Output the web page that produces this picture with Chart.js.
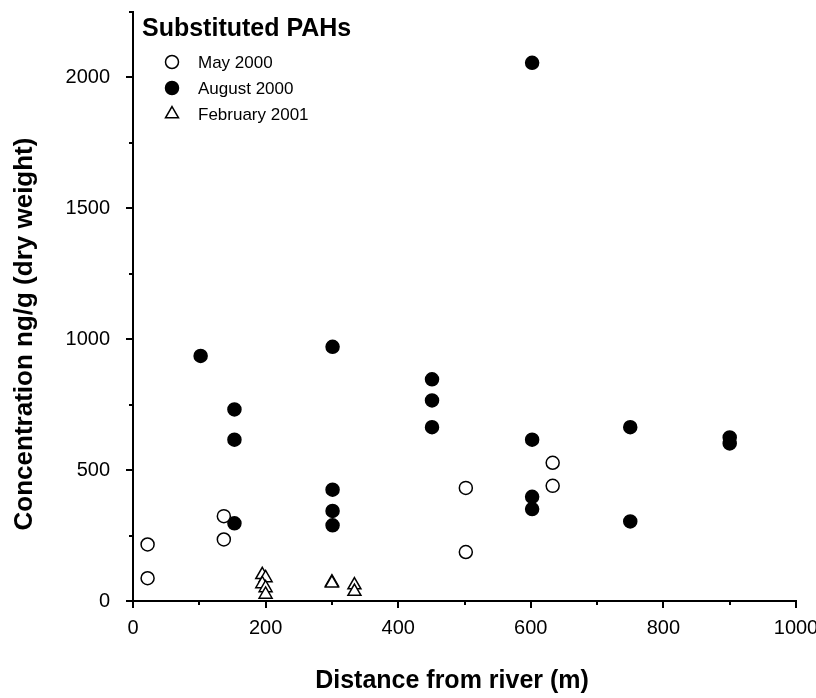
<!DOCTYPE html>
<html>
<head>
<meta charset="utf-8">
<script src="https://cdn.jsdelivr.net/npm/chart.js@4"></script>
<style>
    html, body { margin: 0; padding: 0; background: #fff; }
    #wrap { width: 816px; height: 698px; }
</style>
</head>
<body>
<div id="wrap"><canvas id="pahChart" width="816" height="698"></canvas></div>
<script>
// Distance from river (m) / concentration ng/g
const mayX = [22, 22, 137, 137, 502, 502, 633, 633];
const mayY = [216, 87, 324, 235, 432, 187, 528, 440];

const augX = [102, 153, 153, 153, 301, 301, 301, 301, 451, 451, 451, 602, 602, 602, 602, 750, 750, 900, 900];
const augY = [936, 732, 616, 297, 971, 425, 344, 289, 847, 766, 664, 2056, 616, 398, 351, 664, 304, 625, 602];

const febX = [195, 200, 195, 200, 200, 300, 300, 334, 334];
const febY = [100, 88, 65, 50, 25, 72, 68, 61, 36];

const seriesLabels = ['May 2000', 'August 2000', 'February 2001'];
const legendTitle = 'Substituted PAHs';
const xTitle = 'Distance from river (m)';
const yTitle = 'Concentration ng/g (dry weight)';

const xTicks = [0, 200, 400, 600, 800, 1000];
const xMinor = [100, 300, 500, 700, 900];
const yTicks = [0, 500, 1000, 1500, 2000];
const yMinor = [250, 750, 1250, 1750, 2250];

const FONT = '"Liberation Sans", Arial, sans-serif';

function toPoints(xs, ys) {
    return xs.map((x, i) => ({ x: x, y: ys[i] }));
}

// short minor ticks on both axes
const minorTicks = {
    id: 'minorTicks',
    afterDraw(chart) {
        const c = chart.ctx;
        const xs = chart.scales.x, ys = chart.scales.y;
        const area = chart.chartArea;
        c.save();
        c.strokeStyle = '#000';
        c.lineWidth = 2;
        c.beginPath();
        xMinor.forEach(v => {
            const px = Math.round(xs.getPixelForValue(v));
            c.moveTo(px, area.bottom);
            c.lineTo(px, area.bottom + 4);
        });
        yMinor.forEach(v => {
            const py = Math.round(ys.getPixelForValue(v));
            c.moveTo(area.left, py);
            c.lineTo(area.left - 4, py);
        });
        c.stroke();
        c.restore();
    }
};

// axis titles (sit a little off-centre in the original)
const axisTitles = {
    id: 'axisTitles',
    afterDraw(chart) {
        const c = chart.ctx;
        c.save();
        c.fillStyle = '#000';
        c.textAlign = 'center';
        c.textBaseline = 'middle';
        c.font = 'bold 25px ' + FONT;
        c.fillText(xTitle, 452, 681);
        c.translate(25, 334);
        c.rotate(-Math.PI / 2);
        c.font = 'bold 26px ' + FONT;
        c.fillText(yTitle, 0, 0);
        c.restore();
    }
};

// legend in the top left corner of the plot
const cornerLegend = {
    id: 'cornerLegend',
    afterDraw(chart) {
        const c = chart.ctx;
        const area = chart.chartArea;
        c.save();
        c.fillStyle = '#000';
        c.textBaseline = 'middle';
        c.textAlign = 'left';
        c.font = 'bold 25px ' + FONT;
        c.fillText(legendTitle, area.left + 9, 29);
        c.font = '17px ' + FONT;
        chart.data.datasets.forEach((ds, i) => {
            const y = 62 + i * 26;
            c.strokeStyle = ds.pointBorderColor;
            c.fillStyle = ds.pointBackgroundColor;
            c.lineWidth = ds.pointBorderWidth;
            Chart.helpers.drawPoint(c, { pointStyle: ds.pointStyle, radius: ds.pointRadius, borderWidth: ds.pointBorderWidth }, area.left + 39, y);
            c.fillStyle = '#000';
            c.fillText(ds.label, area.left + 65, y + 1);
        });
        c.restore();
    }
};

const ctx = document.getElementById('pahChart').getContext('2d');
const pahChart = new Chart(ctx, {
    type: 'scatter',
    data: {
        datasets: [{
            label: seriesLabels[0],
            data: toPoints(mayX, mayY),
            pointStyle: 'circle',
            pointRadius: 6.5,
            pointBackgroundColor: '#fff',
            pointBorderColor: '#000',
            pointBorderWidth: 1.5
        }, {
            label: seriesLabels[1],
            data: toPoints(augX, augY),
            pointStyle: 'circle',
            pointRadius: 6.5,
            pointBackgroundColor: '#000',
            pointBorderColor: '#000',
            pointBorderWidth: 1.5
        }, {
            label: seriesLabels[2],
            data: toPoints(febX, febY),
            pointStyle: 'triangle',
            pointRadius: 7.5,
            pointBackgroundColor: '#fff',
            pointBorderColor: '#000',
            pointBorderWidth: 1.5
        }]
    },
    options: {
        responsive: false,
        animation: false,
        clip: false,
        layout: { padding: { top: 12, right: 20, left: 0, bottom: 0 } },
        plugins: {
            legend: { display: false },
            tooltip: { enabled: false }
        },
        scales: {
            x: {
                type: 'linear',
                min: 0,
                max: 1000,
                afterBuildTicks: s => { s.ticks = xTicks.map(v => ({ value: v })); },
                afterFit: s => { s.height = 97; s.paddingLeft = 0; s.paddingRight = 0; },
                border: { display: true, color: '#000', width: 2 },
                grid: { drawOnChartArea: false, drawTicks: true, tickLength: 7, color: '#000', lineWidth: 2 },
                ticks: { color: '#000', padding: 8, maxRotation: 0, font: { family: FONT, size: 20 }, callback: v => String(v) },
                title: { display: false }
            },
            y: {
                type: 'linear',
                min: 0,
                max: 2250,
                afterBuildTicks: s => { s.ticks = yTicks.map(v => ({ value: v })); },
                afterFit: s => { s.width = 133; s.paddingTop = 0; s.paddingBottom = 0; },
                border: { display: true, color: '#000', width: 2 },
                grid: { drawOnChartArea: false, drawTicks: true, tickLength: 7, color: '#000', lineWidth: 2 },
                ticks: { color: '#000', padding: 16, font: { family: FONT, size: 20 }, callback: v => String(v) },
                title: { display: false }
            }
        }
    },
    plugins: [minorTicks, axisTitles, cornerLegend]
});
</script>
</body>
</html>
